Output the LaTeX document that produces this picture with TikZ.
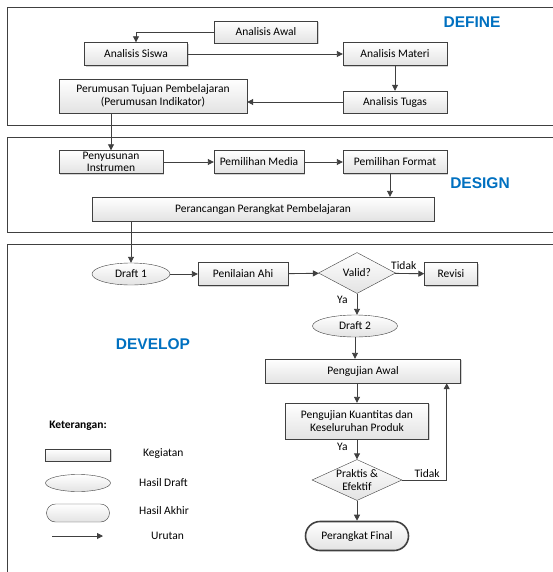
\documentclass[tikz,border=0pt]{standalone}
\usepackage{fontspec}
\setmainfont{Carlito}
\newfontfamily\headfont{Liberation Sans}
\usetikzlibrary{shapes.geometric,shapes.misc,arrows.meta,shadows}
\definecolor{linegray}{RGB}{64,64,64}
\definecolor{stageblue}{RGB}{0,112,192}
\tikzset{
	isi/.style={draw=linegray, top color=white, bottom color=gray!22, font=\fontsize{11.5}{13}\selectfont, align=center, inner sep=1pt},
	kegiatan/.style={isi, drop shadow={shadow xshift=1.2pt, shadow yshift=-1.2pt, opacity=0.35}},
	draftnode/.style={isi, ellipse, inner sep=0pt},
	keputusan/.style={isi, diamond, inner sep=-3pt, aspect=2.2, font=\fontsize{11.5}{12.5}\selectfont},
	akhir/.style={isi, rounded rectangle, line width=1.6pt},
	alur/.style={draw=linegray, line width=0.9pt, -{Triangle[length=6pt,width=6pt]}},
	tahap/.style={text=stageblue, font=\headfont\bfseries\fontsize{15.5}{17}\selectfont},
	bingkai/.style={draw=linegray, line width=0.8pt},
	teks/.style={font=\fontsize{11.5}{13}\selectfont, inner sep=1pt}
}
\begin{document}
\begin{tikzpicture}[x=1pt,y=-1pt]
		\useasboundingbox (0,0) rectangle (552,572);
		\draw[bingkai] (7,7) rectangle (560,125);
		\draw[bingkai] (7,137) rectangle (560,232);
		\draw[bingkai] (7,244) rectangle (560,580);
		\node[tahap] (define) at (472,22) {DEFINE};
		\node[tahap] (design) at (480,183) {DESIGN};
		\node[tahap] (develop) at (153,344) {DEVELOP};
		
		\node[kegiatan, minimum width=103, minimum height=22] (awal) at (266,32) {Analisis Awal};
		\node[kegiatan, minimum width=103, minimum height=23] (siswa) at (136,54) {Analisis Siswa};
		\node[kegiatan, minimum width=104, minimum height=23] (materi) at (395,54) {Analisis Materi};
		\node[kegiatan, minimum width=188, minimum height=34] (perumusan) at (153,96) {Perumusan Tujuan Pembelajaran\\(Perumusan Indikator)};
		\node[kegiatan, minimum width=104, minimum height=22] (tugas) at (395,102) {Analisis Tugas};
		\draw[alur] (awal.west) -| (siswa.north);
		\draw[alur] (siswa) -- (materi);
		\draw[alur] (materi) -- (tugas);
		\draw[alur] (tugas.west) -- (tugas.west -| perumusan.east);
		
		\node[kegiatan, minimum width=104, minimum height=23, inner sep=0pt, font=\fontsize{11.5}{12}\selectfont] (penyusunan) at (111,162) {Penyusunan\\Instrumen};
		\node[kegiatan, minimum width=90, minimum height=23] (media) at (259,162) {Pemilihan Media};
		\node[kegiatan, minimum width=104, minimum height=23] (format) at (395,162) {Pemilihan Format};
		\node[kegiatan, minimum width=342, minimum height=24] (perancangan) at (263,209) {Perancangan Perangkat Pembelajaran};
		\draw[alur] (perumusan.south -| penyusunan.north) -- (penyusunan.north);
		\draw[alur] (penyusunan) -- (media);
		\draw[alur] (media) -- (format);
		\draw[alur] ([xshift=-5pt]format.south) -- ([xshift=-5pt]format.south |- perancangan.north);
		
		\node[draftnode, minimum width=78, minimum height=22] (draft1) at (131,274) {Draft 1};
		\node[kegiatan, minimum width=90, minimum height=23] (penilaian) at (243,274) {Penilaian Ahi};
		\node[keputusan, minimum width=77, minimum height=41] (valid) at (357,273) {Valid?};
		\node[kegiatan, minimum width=53, minimum height=23] (revisi) at (451,274) {Revisi};
		\node[draftnode, minimum width=85, minimum height=22] (draft2) at (355,326) {Draft 2};
		\node[kegiatan, minimum width=195, minimum height=24] (ujiawal) at (363,371) {Pengujian Awal};
		\node[kegiatan, minimum width=143, minimum height=36] (kuantitas) at (357,421) {Pengujian Kuantitas dan\\Keseluruhan Produk};
		\node[keputusan, minimum width=90, minimum height=41] (praktis) at (357,480) {Praktis \&\\Efektif};
		\node[akhir, minimum width=105, minimum height=29] (final) at (357,536) {Perangkat Final};
		\draw[alur] (perancangan.south -| draft1.north) -- (draft1.north);
		\draw[alur] (draft1) -- (penilaian);
		\draw[alur] (penilaian) -- (valid);
		\draw[alur] (valid) -- node[teks, above=2pt, pos=0.3] {Tidak} (revisi);
		\draw[alur] (valid) -- node[teks, left=8pt, pos=0.3] {Ya} (valid.south |- draft2.north);
		\draw[alur] (draft2.south) -- (draft2.south |- ujiawal.north);
		\draw[alur] (ujiawal.south -| kuantitas.north) -- (kuantitas.north);
		\draw[alur] (kuantitas) -- node[teks, left=8pt, pos=0.4] {Ya} (praktis);
		\draw[alur] (praktis.east) -| node[teks, above=1pt, pos=0.28] {Tidak} ([xshift=-14pt]ujiawal.south east);
		\draw[alur] (praktis) -- (final);
		
		\node[teks, font=\bfseries\fontsize{11.5}{13}\selectfont] (keterangan) at (78,426) {Keterangan:};
		\node[kegiatan, minimum width=65, minimum height=12] (lkegiatan) at (78,455) {};
		\node[draftnode, minimum width=65, minimum height=17] (ldraft) at (78,483) {};
		\node[isi, rounded rectangle, minimum width=65, minimum height=18] (lakhir) at (78,513) {};
		\coordinate (lurutan) at (52,536);
		\draw[alur] (lurutan) -- ++(51,0);
		\node[teks, anchor=west] (tkegiatan) at (142,454) {Kegiatan};
		\node[teks, anchor=west] (tdraft) at (138,483) {Hasil Draft};
		\node[teks, anchor=west] (takhir) at (138,511) {Hasil Akhir};
		\node[teks, anchor=west] (turutan) at (150,536) {Urutan};
\end{tikzpicture}
\end{document}
